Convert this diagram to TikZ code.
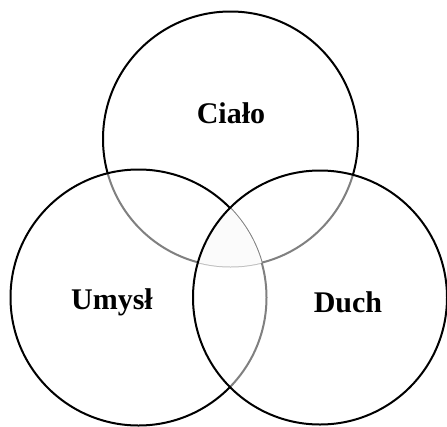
\documentclass[tikz,border=0pt]{standalone}
\usepackage{fontspec}
\setmainfont{Liberation Serif}
\begin{document}
\begin{tikzpicture}[x=1pt,y=-1pt,
  venn/.style={draw=black, line width=2pt, fill=white, fill opacity=0.5, draw opacity=1},
  lab/.style={font=\bfseries\fontsize{30}{34}\selectfont, text=black}]
\useasboundingbox (0,0) rectangle (447,426);
\fill[white] (0,0) rectangle (447,426);
% circles
\path[venn] (230.5,139) circle (127.5);
\path[venn] (138.5,297.5) circle (128);
\begin{scope}
  \clip (230.5,139) circle (127.5);
  \clip (138.5,297.5) circle (128);
  \fill[black!3] (320,297.5) circle (127);
\end{scope}
\path[venn] (320,297.5) circle (127);
\node[lab] (cialo) at (231,113) {Ciało};
\node[lab] (umysl) at (112,302) {Umysł};
\node[lab] (duch) at (348,302) {Duch};
\end{tikzpicture}
\end{document}
